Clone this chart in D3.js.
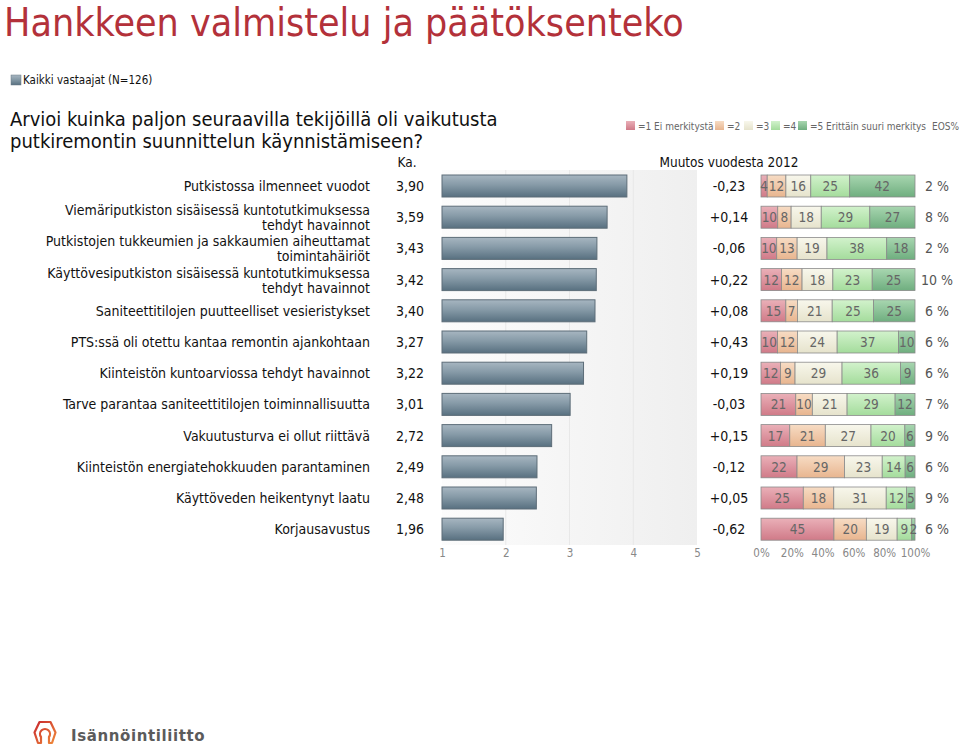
<!DOCTYPE html>
<html><head><meta charset="utf-8">
<script src="https://cdn.jsdelivr.net/npm/d3@7"></script>
<style>body{margin:0;background:#fff}svg{display:block}</style>
</head><body>
<svg id="c" width="960" height="753"></svg>
<script>
// ---------- data ----------
const categories = [
  "Putkistossa ilmenneet vuodot",
  "Viemäriputkiston sisäisessä kuntotutkimuksessa|tehdyt havainnot",
  "Putkistojen tukkeumien ja sakkaumien aiheuttamat|toimintahäiriöt",
  "Käyttövesiputkiston sisäisessä kuntotutkimuksessa|tehdyt havainnot",
  "Saniteettitilojen puutteelliset vesieristykset",
  "PTS:ssä oli otettu kantaa remontin ajankohtaan",
  "Kiinteistön kuntoarviossa tehdyt havainnot",
  "Tarve parantaa saniteettitilojen toiminnallisuutta",
  "Vakuutusturva ei ollut riittävä",
  "Kiinteistön energiatehokkuuden parantaminen",
  "Käyttöveden heikentynyt laatu",
  "Korjausavustus"
];
const means   = [3.90, 3.59, 3.43, 3.42, 3.40, 3.27, 3.22, 3.01, 2.72, 2.49, 2.48, 1.96];
const changes = [-0.23, 0.14, -0.06, 0.22, 0.08, 0.43, 0.19, -0.03, 0.15, -0.12, 0.05, -0.62];
const share1  = [4, 10, 10, 12, 15, 10, 12, 21, 17, 22, 25, 45];
const share2  = [12, 8, 13, 12, 7, 12, 9, 10, 21, 29, 18, 20];
const share3  = [16, 18, 19, 18, 21, 24, 29, 21, 27, 23, 31, 19];
const share4  = [25, 29, 38, 23, 25, 37, 36, 29, 20, 14, 12, 9];
const share5  = [42, 27, 18, 25, 25, 10, 9, 12, 6, 6, 5, 2];
const eos     = [2, 8, 2, 10, 6, 6, 6, 7, 9, 6, 9, 6];
const meanTicks = [1, 2, 3, 4, 5];
const pctTicks  = [0, 0.2, 0.4, 0.6, 0.8, 1];
const legendLabels = ["=1 Ei merkitystä", "=2", "=3", "=4", "=5 Erittäin suuri merkitys"];

// ---------- styles ----------
const FONT = "'DejaVu Sans Condensed','DejaVu Sans',sans-serif";
const segColors = [["#eab0b8","#d07a88"],["#f7dcc4","#e8b58f"],["#f8f7ec","#e6e3cc"],["#d2f2cc","#a4dc9c"],["#a8d6b0","#6fae7f"]];

const svg = d3.select("#c").style("font-family", FONT);
const defs = svg.append("defs");

const bg = defs.append("linearGradient").attr("id","panel").attr("x1",0).attr("x2",1).attr("y1",0).attr("y2",0);
bg.append("stop").attr("offset","0%").attr("stop-color","#fcfcfc");
bg.append("stop").attr("offset","100%").attr("stop-color","#efefef");

const bar = defs.append("linearGradient").attr("id","bar").attr("x1",0).attr("x2",0).attr("y1",0).attr("y2",1);
bar.append("stop").attr("offset","0%").attr("stop-color","#a7b6c1");
bar.append("stop").attr("offset","45%").attr("stop-color","#869aa7");
bar.append("stop").attr("offset","100%").attr("stop-color","#587080");

segColors.forEach((c,i)=>{
  const g = defs.append("linearGradient").attr("id","seg"+i).attr("x1",0).attr("x2",0).attr("y1",0).attr("y2",1);
  g.append("stop").attr("offset","0%").attr("stop-color",c[0]);
  g.append("stop").attr("offset","100%").attr("stop-color",c[1]);
});
const logoG = defs.append("linearGradient").attr("id","logo").attr("x1",0).attr("x2",1).attr("y1",0).attr("y2",1);
logoG.append("stop").attr("offset","0%").attr("stop-color","#c8282e");
logoG.append("stop").attr("offset","100%").attr("stop-color","#f08a3a");

// ---------- header ----------
svg.append("text").attr("x",4).attr("y",36).attr("font-size",39).attr("fill","#b3313a")
  .text("Hankkeen valmistelu ja päätöksenteko");

svg.append("rect").attr("x",11).attr("y",75).attr("width",10).attr("height",10).attr("fill","url(#bar)").attr("stroke","#6a7a85").attr("stroke-width",0.5);
svg.append("text").attr("x",23).attr("y",84).attr("font-size",11.5).attr("fill","#111").text("Kaikki vastaajat (N=126)");

svg.append("text").attr("x",10).attr("y",126).attr("font-size",20).attr("fill","#111").text("Arvioi kuinka paljon seuraavilla tekijöillä oli vaikutusta");
svg.append("text").attr("x",10).attr("y",148).attr("font-size",20).attr("fill","#111").text("putkiremontin suunnittelun käynnistämiseen?");

// legend top-right
const legX = [626, 715, 744, 771, 798];
legendLabels.forEach((t,i)=>{
  svg.append("rect").attr("x",legX[i]).attr("y",121).attr("width",9).attr("height",9).attr("fill","url(#seg"+i+")");
  svg.append("text").attr("x",legX[i]+12).attr("y",129.5).attr("font-size",10).attr("fill","#666").text(t);
});
svg.append("text").attr("x",959).attr("y",129.5).attr("text-anchor","end").attr("font-size",10).attr("fill","#666").text("EOS%");

svg.append("text").attr("x",407).attr("y",167).attr("text-anchor","middle").attr("font-size",13.5).attr("fill","#111").text("Ka.");
svg.append("text").attr("x",729).attr("y",167).attr("text-anchor","middle").attr("font-size",13.5).attr("fill","#111").text("Muutos vuodesta 2012");

// ---------- scales ----------
const y = d3.scaleBand().domain(categories).range([170.4, 544.8]).paddingInner(0.295).paddingOuter(0.1475);
const x = d3.scaleLinear().domain([1,5]).range([442,697]);
const p = d3.scaleLinear().domain([0,1]).range([761,915]);

// panel
svg.append("rect").attr("x",x(1)).attr("y",170).attr("width",x(5)-x(1)).attr("height",375).attr("fill","url(#panel)");
svg.append("g").selectAll("line").data([2,3,4]).join("line")
  .attr("x1",d=>x(d)).attr("x2",d=>x(d)).attr("y1",170).attr("y2",545)
  .attr("stroke","#e8e8e8").attr("stroke-width",1);

// mean bars
svg.append("g").selectAll("rect").data(categories).join("rect")
  .attr("x",x(1)).attr("y",d=>y(d)).attr("width",(d,i)=>x(means[i])-x(1)).attr("height",y.bandwidth())
  .attr("fill","url(#bar)").attr("stroke","#5d6d78").attr("stroke-width",1);

// category labels
const fmt = v => v.toFixed(2).replace(".", ",");
const lab = svg.append("g").attr("font-size",14).attr("fill","#111").attr("text-anchor","end");
categories.forEach((c,i)=>{
  const cy = y(c) + y.bandwidth()/2;
  const lines = c.split("|");
  if (lines.length === 1) {
    lab.append("text").attr("x",370).attr("y",cy+5).text(lines[0]);
  } else {
    lab.append("text").attr("x",370).attr("y",cy-2).text(lines[0]);
    lab.append("text").attr("x",370).attr("y",cy+13).text(lines[1]);
  }
  svg.append("text").attr("x",410).attr("y",cy+5).attr("text-anchor","middle").attr("font-size",14).attr("fill","#111").text(fmt(means[i]));
  svg.append("text").attr("x",729).attr("y",cy+5).attr("text-anchor","middle").attr("font-size",14).attr("fill","#111")
    .text((changes[i] > 0 ? "+" : "") + fmt(changes[i]));
  svg.append("text").attr("x",937).attr("y",cy+5).attr("text-anchor","middle").attr("font-size",14).attr("fill","#555").text(eos[i] + " %");
});

// stacked distribution bars
const rows = categories.map((c,i)=>({cat:c, s0:share1[i], s1:share2[i], s2:share3[i], s3:share4[i], s4:share5[i]}));
const keys = ["s0","s1","s2","s3","s4"];
const stacked = d3.stack().keys(keys).offset(d3.stackOffsetExpand)(rows);
const sg = svg.append("g");
stacked.forEach((layer,k)=>{
  sg.append("g").selectAll("rect").data(layer).join("rect")
    .attr("x",d=>p(d[0])).attr("y",d=>y(d.data.cat)).attr("width",d=>p(d[1])-p(d[0])).attr("height",y.bandwidth())
    .attr("fill","url(#seg"+k+")").attr("stroke","#8a8a8a").attr("stroke-width",0.8);
});
stacked.forEach((layer,k)=>{
  sg.append("g").selectAll("text").data(layer).join("text")
    .attr("x",d=>(p(d[0])+p(d[1]))/2).attr("y",d=>y(d.data.cat)+y.bandwidth()/2+5)
    .attr("text-anchor","middle").attr("font-size",13.5).attr("fill","#666")
    .text(d=>d.data[keys[k]]);
});

// axes
const ax1 = svg.append("g").attr("transform","translate(0,545)")
  .call(d3.axisBottom(x).tickValues(meanTicks).tickSize(0).tickPadding(4).tickFormat(d3.format("d")));
const ax2 = svg.append("g").attr("transform","translate(0,545)")
  .call(d3.axisBottom(p).tickValues(pctTicks).tickSize(0).tickPadding(4).tickFormat(d=>Math.round(d*100)+"%"));
[ax1,ax2].forEach(a=>{
  a.select(".domain").remove();
  a.selectAll("text").attr("font-family",FONT).attr("font-size",11.5).attr("fill","#888");
});

// logo
svg.append("path")
  .attr("d","M41,743 L38,743 L34.5,732.5 L39.5,722 L50.5,722 L55.5,732.5 L52,743 L49,743 L49,737 A5,5 0 1 0 41,737 Z")
  .attr("fill","none").attr("stroke","url(#logo)").attr("stroke-width",2.2).attr("stroke-linejoin","round");
svg.append("text").attr("x",71).attr("y",741).attr("font-size",15).attr("font-weight","bold").attr("letter-spacing",0.6)
  .attr("font-family","'DejaVu Sans',sans-serif").attr("fill","#5b5b5b").text("Isännöintiliitto");
</script>
</body></html>
